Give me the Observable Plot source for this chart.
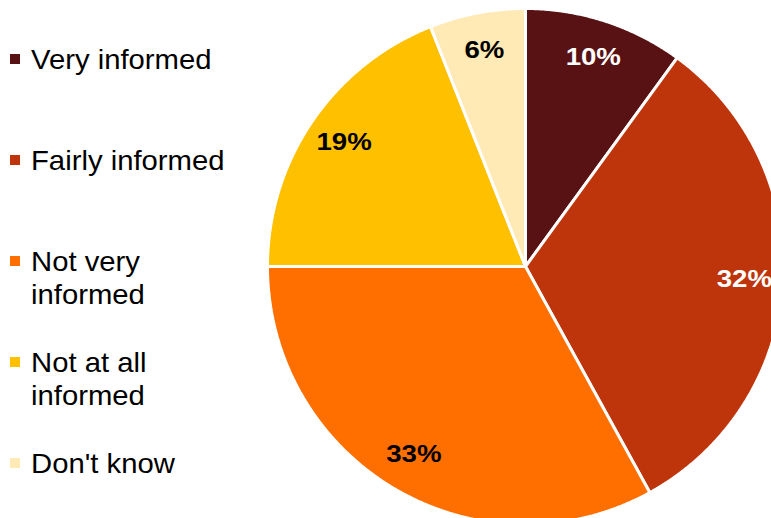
<!DOCTYPE html>
<html>
<head>
<meta charset="utf-8">
<script src="https://cdn.jsdelivr.net/npm/d3@7"></script>
<script src="https://cdn.jsdelivr.net/npm/@observablehq/plot@0.6"></script>
<style>
  html, body { margin: 0; padding: 0; overflow: hidden; background: #fff; width: 771px; height: 518px; }
  #chart { position: absolute; left: 0; top: 0; }
  #legend { position: absolute; left: 0; top: 0; font-family: "Liberation Sans", Arial, sans-serif; font-size: 28px; color: #000; }
  .item { position: absolute; left: 0; width: 225px; line-height: 33px; }
  .sw { position: absolute; left: 10px; top: 11px; width: 10px; height: 10px; }
  .lab { position: absolute; left: 31px; width: 192px; white-space: normal; transform: scaleX(1.045); transform-origin: 0 0; }
</style>
</head>
<body>
<div id="chart"></div>
<div id="legend"></div>
<script>
const categories = ["Very informed", "Fairly informed", "Not very informed", "Not at all informed", "Don't know"];
const values = [10, 32, 33, 19, 6];
const labels = ["10%", "32%", "33%", "19%", "6%"];
const palette = ["#581214", "#be350c", "#ff6f00", "#ffc000", "#ffe9b5"];
const labelInk = ["white", "white", "black", "black", "black"];

const pie = d3.pie().sort(null).value(d => d.value).startAngle(0).endAngle(2 * Math.PI);
const arcs = pie(categories.map((c, i) => ({category: c, value: values[i], label: labels[i], ink: labelInk[i]})));

// polygon vertices for each slice (unit circle, angle clockwise from 12 o'clock)
const pts = [];
for (const a of arcs) {
  const c = a.data.category;
  pts.push({category: c, x: 0, y: 0});
  const n = Math.max(2, Math.ceil((a.endAngle - a.startAngle) / (Math.PI / 720)));
  for (let k = 0; k <= n; k++) {
    const t = a.startAngle + (a.endAngle - a.startAngle) * k / n;
    pts.push({category: c, x: Math.sin(t), y: Math.cos(t)});
  }
  pts.push({category: c, x: 0, y: 0});
}
const lr = 0.85;
const labelPts = arcs.map(a => {
  const m = (a.startAngle + a.endAngle) / 2;
  return {label: a.data.label, ink: a.data.ink, x: lr * Math.sin(m), y: lr * Math.cos(m)};
});

const R = 258, cx = 525, cy = 266;
const chart = Plot.plot({
  width: 771,
  height: 518,
  margin: 0,
  style: {background: "transparent", overflow: "hidden"},
  x: {domain: [-1, 1], range: [cx - R, cx + R], axis: null},
  y: {domain: [-1, 1], range: [cy + R, cy - R], axis: null},
  color: {domain: categories, range: palette},
  marks: [
    Plot.line(pts, {x: "x", y: "y", z: "category", fill: "category", stroke: "white", strokeWidth: 3, strokeLinejoin: "miter", curve: "linear"}),
    Plot.text(labelPts, {x: "x", y: "y", text: "label", fill: "ink", fontFamily: "Liberation Sans, Arial, sans-serif", fontWeight: "bold", fontSize: 24, dy: -1, className: "pct"})
  ]
});
document.getElementById("chart").appendChild(chart);
// widen the bold percentage labels slightly, like the reference's lettering
chart.querySelectorAll(".pct text").forEach(t => {
  const len = t.getComputedTextLength();
  t.setAttribute("textLength", (len * 1.15).toFixed(1));
  t.setAttribute("lengthAdjust", "spacingAndGlyphs");
});

const legend = document.getElementById("legend");
categories.forEach((c, i) => {
  const item = document.createElement("div");
  item.className = "item";
  item.style.top = (43 + i * 101) + "px";
  const sw = document.createElement("div");
  sw.className = "sw";
  sw.style.background = palette[i];
  const lab = document.createElement("div");
  lab.className = "lab";
  lab.textContent = c;
  item.appendChild(sw);
  item.appendChild(lab);
  legend.appendChild(item);
});
</script>
</body>
</html>
